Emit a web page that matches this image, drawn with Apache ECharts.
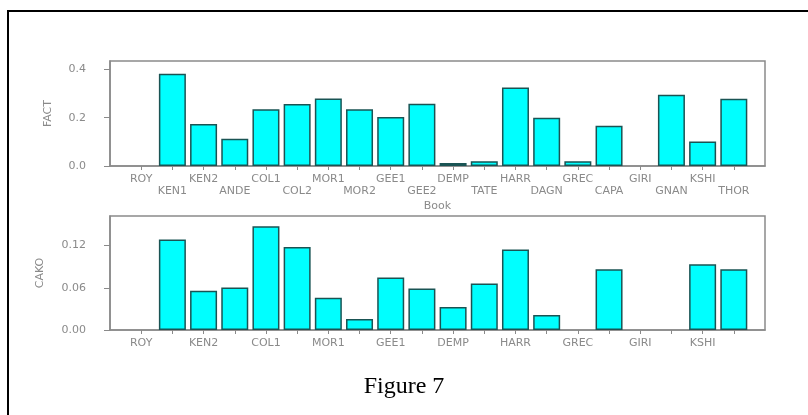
<!DOCTYPE html>
<html>
<head>
<meta charset="utf-8">
<script src="https://cdn.jsdelivr.net/npm/echarts@6/dist/echarts.min.js"></script>
<style>html,body{margin:0;padding:0;background:#fff}#c{width:808px;height:415px}</style>
</head>
<body>
<div id="c"></div>
<script>
var categories = ['ROY','KEN1','KEN2','ANDE','COL1','COL2','MOR1','MOR2','GEE1','GEE2','DEMP','TATE','HARR','DAGN','GREC','CAPA','GIRI','GNAN','KSHI','THOR'];
var factValues = [0, 0.382, 0.174, 0.113, 0.235, 0.257, 0.280, 0.235, 0.203, 0.258, 0.0125, 0.02, 0.325, 0.200, 0.02, 0.167, 0, 0.295, 0.101, 0.279];
var cakoValues = [0, 0.1286, 0.0558, 0.0605, 0.1475, 0.118, 0.0458, 0.0156, 0.0747, 0.059, 0.0326, 0.066, 0.1144, 0.0213, 0, 0.0865, 0, 0, 0.0936, 0.0865];
var factTicks = [0, 0.2, 0.4];
var cakoTicks = [0, 0.06, 0.12];
var titleText = 'Figure 7';

var idx = categories.map(function (c, i) { return i; });
var gray = '#8a8a8a';
var labelFont = 'DejaVu Sans';

// zero-height bars are not drawn in the reference
function pairs(vals) { return vals.map(function (v, i) { return v === 0 ? [i, null] : [i, v]; }); }

function xAxisFor(gridIndex, twoRows, name) {
  return {
    type: 'value', gridIndex: gridIndex, min: -1, max: 20, interval: 1,
    name: name || '', nameLocation: 'middle', nameGap: 35,
    nameTextStyle: { color: gray, fontSize: 11, fontFamily: labelFont },
    splitLine: { show: false },
    axisLine: { onZero: false, lineStyle: { color: gray, width: 1.5 } },
    axisTick: { customValues: idx, length: 4, lineStyle: { color: gray } },
    axisLabel: {
      customValues: twoRows ? idx : idx.filter(function (i) { return i % 2 === 0; }),
      color: gray, fontSize: 11, fontFamily: labelFont, margin: 7, lineHeight: 12,
      verticalAlign: 'top',
      formatter: function (v) {
        var i = Math.round(v);
        var n = categories[i] || '';
        return (twoRows && i % 2 === 1) ? '\n' + n : n;
      }
    }
  };
}

function yAxisFor(gridIndex, max, ticks, digits, name, gap) {
  return {
    type: 'value', gridIndex: gridIndex, min: 0, max: max,
    name: name, nameLocation: 'middle', nameGap: gap, nameRotate: 90,
    nameTextStyle: { color: gray, fontSize: 11, fontFamily: labelFont },
    splitLine: { show: false },
    axisLine: { show: true, onZero: false, lineStyle: { color: gray, width: 1.5 } },
    axisTick: { show: true, customValues: ticks, length: 6, lineStyle: { color: gray } },
    axisLabel: {
      customValues: ticks, color: gray, fontSize: 11, fontFamily: labelFont, margin: 24,
      formatter: function (v) { return v.toFixed(digits); }
    }
  };
}

var barStyle = { color: '#00FFFF', borderColor: '#1a5454', borderWidth: 1.5 };

var chart = echarts.init(document.getElementById('c'), null, { renderer: 'canvas' });
chart.setOption({
  animation: false,
  backgroundColor: '#fff',
  title: {
    text: titleText, left: 'center', top: 370,
    textStyle: { fontFamily: 'Liberation Serif', fontSize: 24, fontWeight: 'normal', color: '#000' }
  },
  graphic: [{
    type: 'rect', shape: { x: 8, y: 11, width: 900, height: 500 },
    style: { fill: 'none', stroke: '#000', lineWidth: 2 }, silent: true
  }],
  grid: [
    { left: 110, right: 43, top: 61, height: 105, show: true, borderColor: gray, borderWidth: 1.5 },
    { left: 110, right: 43, top: 216, height: 114, show: true, borderColor: gray, borderWidth: 1.5 }
  ],
  xAxis: [xAxisFor(0, true, 'Book'), xAxisFor(1, false, '')],
  yAxis: [
    yAxisFor(0, 0.435, factTicks, 1, 'FACT', 56),
    yAxisFor(1, 0.162, cakoTicks, 2, 'CAKO', 64)
  ],
  series: [
    { type: 'bar', xAxisIndex: 0, yAxisIndex: 0, data: pairs(factValues), barWidth: 27, itemStyle: barStyle },
    { type: 'bar', xAxisIndex: 1, yAxisIndex: 1, data: pairs(cakoValues), barWidth: 27, itemStyle: barStyle }
  ]
});
</script>
</body>
</html>
